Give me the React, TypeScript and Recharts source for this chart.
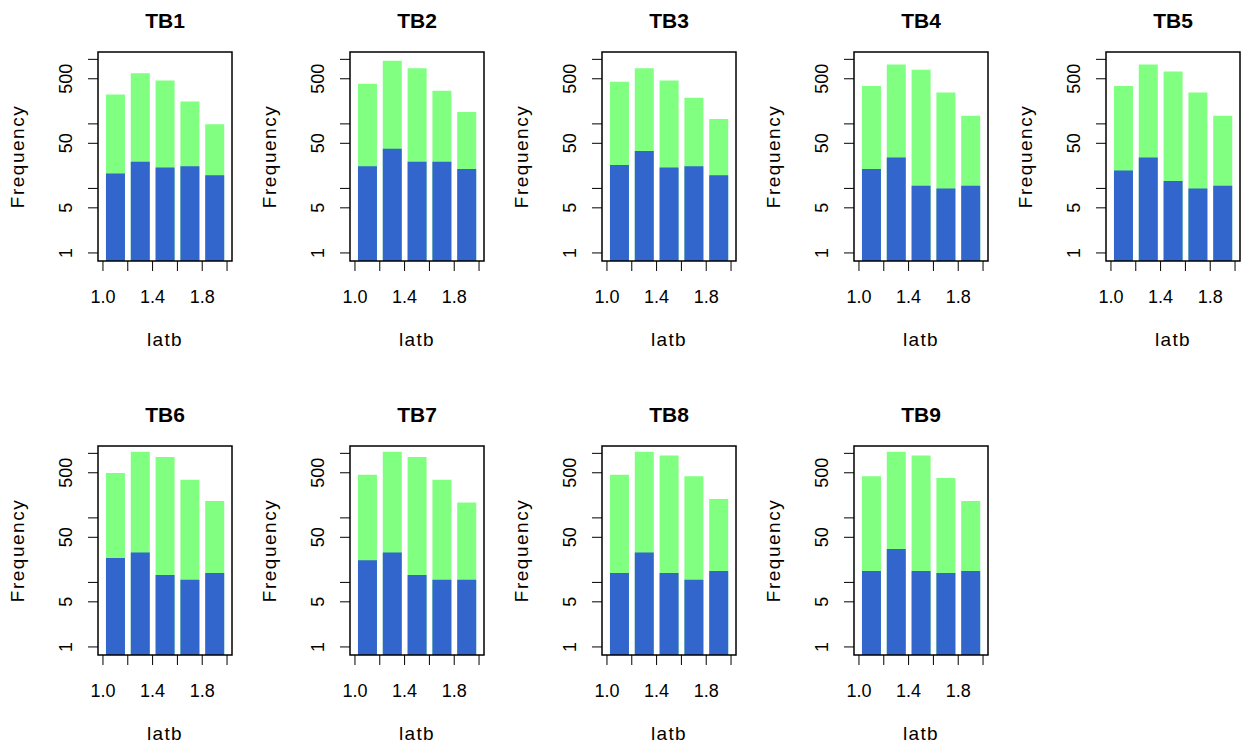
import React from 'react';
import { BarChart, Bar, XAxis, YAxis } from 'recharts';

// bin centres of latb
const latb = [1.1, 1.3, 1.5, 1.7, 1.9];

const panelNames = ['TB1', 'TB2', 'TB3', 'TB4', 'TB5', 'TB6', 'TB7', 'TB8', 'TB9'];

// green = all records, blue = subset
const tb1All = [285, 609, 469, 222, 99];
const tb1Sub = [17, 26, 21, 22, 16];
const tb2All = [417, 948, 728, 325, 153];
const tb2Sub = [22, 41, 26, 26, 20];
const tb3All = [448, 728, 469, 253, 119];
const tb3Sub = [23, 38, 21, 22, 16];
const tb4All = [388, 830, 687, 306, 134];
const tb4Sub = [20, 30, 11, 10, 11];
const tb5All = [388, 830, 647, 306, 134];
const tb5Sub = [19, 30, 13, 10, 11];
const tb6All = [496, 1059, 876, 391, 183];
const tb6Sub = [24, 29, 13, 11, 14];
const tb7All = [468, 1059, 876, 391, 173];
const tb7Sub = [22, 29, 13, 11, 11];
const tb8All = [468, 1059, 929, 441, 197];
const tb8Sub = [14, 29, 14, 11, 15];
const tb9All = [441, 1059, 929, 415, 183];
const tb9Sub = [15, 33, 15, 14, 15];

const allSeries = [tb1All, tb2All, tb3All, tb4All, tb5All, tb6All, tb7All, tb8All, tb9All];
const subSeries = [tb1Sub, tb2Sub, tb3Sub, tb4Sub, tb5Sub, tb6Sub, tb7Sub, tb8Sub, tb9Sub];

const xTicks = [1.0, 1.2, 1.4, 1.6, 1.8, 2.0];
const xTickLabels = ['1.0', '', '1.4', '', '1.8', ''];
const yTicks = [1, 5, 10, 50, 100, 500, 1000];
const yTickLabels = ['1', '5', '', '50', '', '500', ''];

const GREEN = '#80FF80';
const BLUE = '#3366CC';
const FONT = '"Liberation Sans", Arial, Helvetica, sans-serif';
const FS = 18;
const LABEL_FS = 19;

const PANEL_W = 252;
const ROW_H = 394;
const CHART_H = 350;
const PLOT_L = 98;
const PLOT_T = 52;
const PLOT_W = 134;
const PLOT_H = 209;
const Y_AXIS_W = 60;
const X_AXIS_H = 40;

const YTick = (props: any) => {
  const { y, index } = props;
  const label = yTickLabels[index];
  if (!label) return null;
  const bx = PLOT_L - 26;
  return (
    <text
      x={bx}
      y={y}
      transform={`rotate(-90 ${bx} ${y})`}
      textAnchor="middle"
      fontSize={FS}
      fontFamily={FONT}
      fill="#000"
    >
      {label}
    </text>
  );
};

interface PanelProps {
  name: string;
  all: number[];
  sub: number[];
  left: number;
  top: number;
}

const Panel = ({ name, all, sub, left, top }: PanelProps) => {
  const data = latb.map((x, i) => ({ x, all: all[i], sub: sub[i] }));
  const cx = PLOT_L + PLOT_W / 2;
  const cy = PLOT_T + PLOT_H / 2;

  return (
    <div style={{ position: 'absolute', left, top, width: PANEL_W, height: CHART_H }}>
      <BarChart
        width={PANEL_W}
        height={CHART_H}
        data={data}
        margin={{
          top: PLOT_T,
          right: PANEL_W - PLOT_L - PLOT_W,
          left: PLOT_L - Y_AXIS_W,
          bottom: CHART_H - PLOT_T - PLOT_H - X_AXIS_H,
        }}
      >
        <XAxis
          xAxisId="all"
          dataKey="x"
          type="number"
          domain={[0.96, 2.04]}
          allowDataOverflow
          ticks={xTicks}
          interval={0}
          tickFormatter={(_v: number, i: number) => xTickLabels[i]}
          axisLine={false}
          tickSize={10}
          tickMargin={19}
          height={X_AXIS_H}
          stroke="#000"
          tick={{ fill: '#000', fontSize: FS, fontFamily: FONT }}
        />
        <XAxis xAxisId="sub" dataKey="x" type="number" domain={[0.96, 2.04]} allowDataOverflow hide />
        <YAxis
          scale="log"
          type="number"
          domain={[0.75, 1300]}
          allowDataOverflow
          ticks={yTicks}
          interval={0}
          width={Y_AXIS_W}
          axisLine={false}
          tickSize={10}
          stroke="#000"
          tick={<YTick />}
        />
        <Bar xAxisId="all" dataKey="all" fill={GREEN} barSize={19} isAnimationActive={false} />
        <Bar xAxisId="sub" dataKey="sub" fill={BLUE} barSize={19} isAnimationActive={false} />
      </BarChart>
      <svg
        width={PANEL_W}
        height={CHART_H}
        style={{ position: 'absolute', left: 0, top: 0, pointerEvents: 'none' }}
      >
        <rect x={PLOT_L} y={PLOT_T} width={PLOT_W} height={PLOT_H} fill="none" stroke="#000" strokeWidth={1.5} />
        <text x={cx} y={28.3} textAnchor="middle" fontSize={21} fontWeight="bold" fontFamily={FONT} fill="#000">
          {name}
        </text>
        <text x={cx} y={346} textAnchor="middle" fontSize={LABEL_FS} fontFamily={FONT} letterSpacing={1.3} fill="#000">
          latb
        </text>
        <text
          x={24}
          y={cy}
          transform={`rotate(-90 24 ${cy})`}
          textAnchor="middle"
          fontSize={LABEL_FS}
          fontFamily={FONT}
          letterSpacing={1.5}
          fill="#000"
        >
          Frequency
        </text>
      </svg>
    </div>
  );
};

const App = () => {
  return (
    <div style={{ position: 'absolute', left: 0, top: 0, width: 1243, height: 747, background: '#fff' }}>
      {panelNames.map((name, i) => (
        <Panel
          key={name}
          name={name}
          all={allSeries[i]}
          sub={subSeries[i]}
          left={(i % 5) * PANEL_W}
          top={Math.floor(i / 5) * ROW_H}
        />
      ))}
    </div>
  );
};

export default App;
